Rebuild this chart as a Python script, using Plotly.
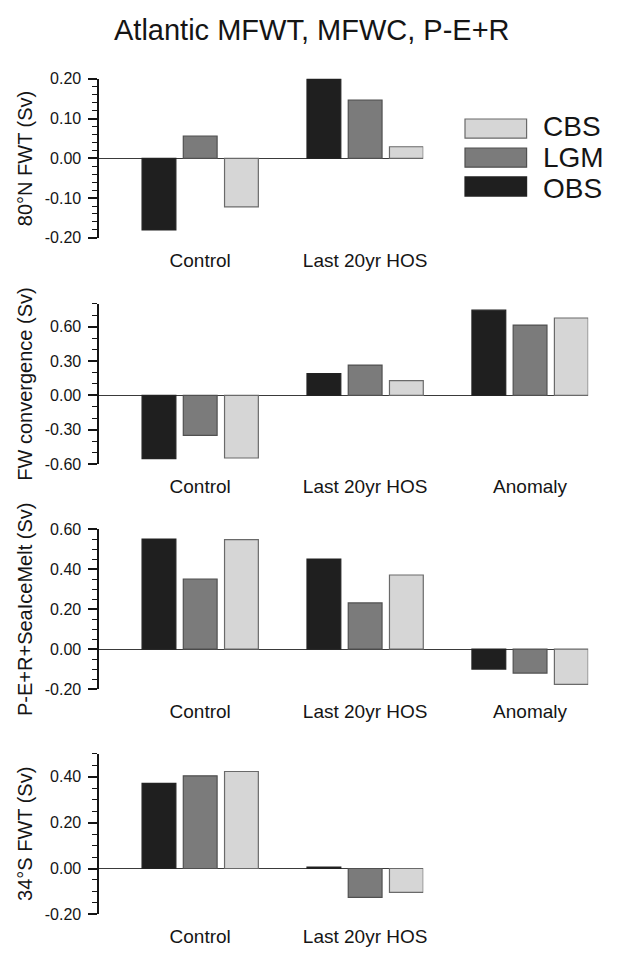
import plotly.graph_objects as go

W, H = 623, 960

# Experiment series (left to right inside each group)
series = ["OBS", "LGM", "CBS"]
bar_colors = ["#1f1f1f", "#7b7b7b", "#d6d6d6"]
edge_colors = ["#222222", "#505050", "#6a6a6a"]

cats_two = ["Control", "Last 20yr HOS"]
cats_three = ["Control", "Last 20yr HOS", "Anomaly"]

# 80N freshwater transport (Sv)
fwt80_obs = [-0.180, 0.200]
fwt80_lgm = [0.056, 0.146]
fwt80_cbs = [-0.122, 0.029]

# Freshwater convergence (Sv)
fwc_obs = [-0.553, 0.190, 0.743]
fwc_lgm = [-0.349, 0.264, 0.613]
fwc_cbs = [-0.547, 0.128, 0.675]

# P-E+R+SeaIceMelt (Sv)
pemr_obs = [0.551, 0.451, -0.100]
pemr_lgm = [0.351, 0.231, -0.120]
pemr_cbs = [0.548, 0.371, -0.177]

# 34S freshwater transport (Sv)
fwt34_obs = [0.371, 0.006]
fwt34_lgm = [0.404, -0.126]
fwt34_cbs = [0.423, -0.104]

ticks_fwt80 = [-0.2, -0.1, 0.0, 0.1, 0.2]
ticks_fwc = [-0.6, -0.3, 0.0, 0.3, 0.6]
ticks_pemr = [-0.2, 0.0, 0.2, 0.4, 0.6]
ticks_fwt34 = [-0.2, 0.0, 0.2, 0.4]

panels = [
    dict(cats=cats_two, vals=[fwt80_obs, fwt80_lgm, fwt80_cbs], yr=[-0.2, 0.2],
         ticks=ticks_fwt80, minor=0.02, title="80°N FWT (Sv)", top=72, bottom=234),
    dict(cats=cats_three, vals=[fwc_obs, fwc_lgm, fwc_cbs], yr=[-0.6, 0.8],
         ticks=ticks_fwc, minor=0.1, title="FW convergence (Sv)", top=301, bottom=464.3),
    dict(cats=cats_three, vals=[pemr_obs, pemr_lgm, pemr_cbs], yr=[-0.2, 0.6],
         ticks=ticks_pemr, minor=0.05, title="P-E+R+SeaIceMelt (Sv)", top=530.7, bottom=693.3),
    dict(cats=cats_two, vals=[fwt34_obs, fwt34_lgm, fwt34_cbs], yr=[-0.2, 0.5],
         ticks=ticks_fwt34, minor=0.05, title="34°S FWT (Sv)", top=759.3, bottom=922.7),
]

FONT = "Liberation Sans, Arial, Helvetica, sans-serif"
INK = "#151515"

AX_LEFT = 100.0        # left axis position (px)
PX_PER_CAT = 166.0     # width of one category slot (px)
FIRST_CENTER = 201.5   # centre of the first category (px)
HALF_GROUP = 58.5      # half width of a bar group, outer bar edges (px)


def fmt(v):
    # plain hyphen-minus for negative tick labels
    return f"{v:.2f}"


fig = go.Figure()
layout = dict(
    width=W, height=H,
    margin=dict(l=0, r=0, t=0, b=0),
    paper_bgcolor="white", plot_bgcolor="white",
    barmode="group", bargap=0.25, bargroupgap=0.18,
    showlegend=False,
    font=dict(family=FONT, color=INK),
    annotations=[], shapes=[],
)

for i, p in enumerate(panels):
    n = i + 1
    xa = "x" if n == 1 else f"x{n}"
    ya = "y" if n == 1 else f"y{n}"
    for s, col, edge, vals in zip(series, bar_colors, edge_colors, p["vals"]):
        fig.add_trace(go.Bar(
            x=p["cats"], y=vals, name=s, xaxis=xa, yaxis=ya,
            marker=dict(color=col, line=dict(color=edge, width=1.2)),
            offsetgroup=s,
        ))
    ncat = len(p["cats"])
    right_px = FIRST_CENTER + (ncat - 1) * PX_PER_CAT + HALF_GROUP
    x0 = (AX_LEFT - FIRST_CENTER) / PX_PER_CAT
    x1 = (right_px - FIRST_CENTER) / PX_PER_CAT
    layout["xaxis" if n == 1 else f"xaxis{n}"] = dict(
        domain=[AX_LEFT / W, right_px / W], anchor=ya, range=[x0, x1],
        showline=False, showgrid=False, zeroline=False, ticks="",
        tickfont=dict(size=19, family=FONT, color=INK), ticklabelstandoff=9,
        fixedrange=True,
    )
    layout["yaxis" if n == 1 else f"yaxis{n}"] = dict(
        domain=[1 - p["bottom"] / H, 1 - p["top"] / H], anchor=xa, range=p["yr"],
        showline=True, linecolor=INK, linewidth=1.8,
        ticks="outside", ticklen=9, tickwidth=1.5, tickcolor=INK,
        tickmode="array", tickvals=p["ticks"], ticktext=[fmt(v) for v in p["ticks"]],
        tickfont=dict(size=16, family=FONT, color=INK), ticklabelstandoff=4,
        minor=dict(ticks="outside", ticklen=5, tickwidth=1, tickcolor=INK,
                   tickmode="linear", tick0=0, dtick=p["minor"], showgrid=False),
        showgrid=False, zeroline=True, zerolinecolor="#3a3a3a", zerolinewidth=1.2,
        fixedrange=True,
    )
    layout["annotations"].append(dict(
        text=p["title"], textangle=-90, xref="paper", yref="paper",
        x=25 / W, y=1 - (p["top"] + p["bottom"]) / 2 / H,
        xanchor="center", yanchor="middle", showarrow=False,
        font=dict(size=20, family=FONT, color=INK),
    ))

# Title
layout["annotations"].append(dict(
    text="Atlantic MFWT, MFWC, P-E+R", xref="paper", yref="paper",
    x=314 / W, y=1 - 22 / H, xanchor="center", yanchor="middle", showarrow=False,
    font=dict(size=29, family=FONT, color=INK),
))

# Legend: boxes with large labels, CBS on top
legend_rows = [("CBS", 2, 113, 120.6), ("LGM", 1, 142.5, 152.3), ("OBS", 0, 172, 184.0)]
for label, k, ytop, ytext in legend_rows:
    layout["shapes"].append(dict(
        type="rect", xref="paper", yref="paper",
        x0=468 / W, x1=530 / W, y0=1 - (ytop + 19.5) / H, y1=1 - ytop / H,
        fillcolor=bar_colors[k], line=dict(color=edge_colors[k], width=1.2),
    ))
    layout["annotations"].append(dict(
        text=label, xref="paper", yref="paper",
        x=546 / W, y=1 - ytext / H, xanchor="left", yanchor="middle",
        showarrow=False, font=dict(size=28, family=FONT, color=INK),
        borderpad=0,
    ))

fig.update_layout(**layout)
fig.write_html("out.html")
